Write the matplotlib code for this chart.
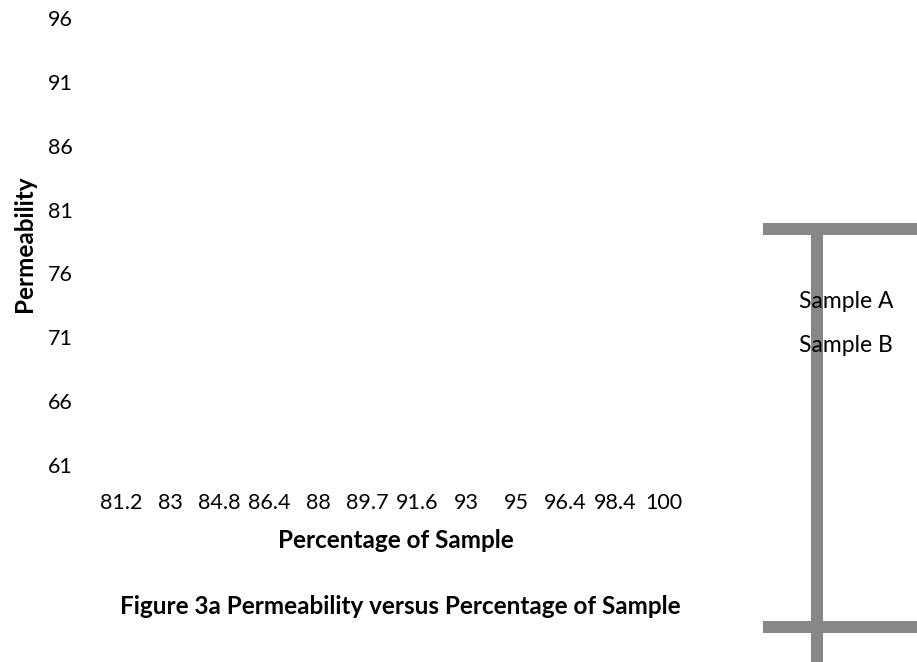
import matplotlib
matplotlib.use("Agg")
import matplotlib.pyplot as plt
from matplotlib.lines import Line2D

plt.rcParams['font.family'] = ['Lato', 'DejaVu Sans']

categories = ['81.2', '83', '84.8', '86.4', '88', '89.7', '91.6', '93', '95', '96.4', '98.4', '100']
y_ticks = [61, 66, 71, 76, 81, 86, 91, 96]
# the series carry no visible points in the original figure
sample_a = []
sample_b = []

W, H = 917, 662
fig = plt.figure(figsize=(W / 100, H / 100), dpi=100)
ax = fig.add_axes([96 / W, 1 - 465 / H, (689 - 96) / W, (465 - 18) / H])
ax.set_facecolor('none')

ax.plot(sample_a, sample_a, label='Sample A')
ax.plot(sample_b, sample_b, label='Sample B')

ax.set_xlim(-0.5, len(categories) - 0.5)
ax.set_ylim(y_ticks[0], y_ticks[-1])
ax.set_xticks(range(len(categories)), categories)
ax.set_yticks(y_ticks, [str(v) for v in y_ticks])
ax.tick_params(length=0, labelsize=15.5)
ax.tick_params(axis='y', pad=17)
ax.tick_params(axis='x', pad=20)
for s in ax.spines.values():
    s.set_visible(False)

fig.text(396 / W, 1 - 540 / H, 'Percentage of Sample', ha='center', va='center',
         fontsize=17.5, fontweight='bold')
fig.text(25 / W, 1 - 244 / H, 'Permeability', ha='center', va='center',
         rotation=90, fontsize=17.5, fontweight='bold')
fig.text(400 / W, 1 - 607 / H, 'Figure 3a Permeability versus Percentage of Sample',
         ha='center', va='center', fontsize=17.5, fontweight='bold')

# grey frame remnants at the right edge
gray = '#878787'
lw = 12 * 72 / 100
for seg in [((763, 917), (229, 229)), ((763, 917), (627, 627)), ((817, 817), (229, 662))]:
    xs = [x / W for x in seg[0]]
    ys = [1 - y / H for y in seg[1]]
    fig.add_artist(Line2D(xs, ys, color=gray, lw=lw, solid_capstyle='butt', zorder=1))

handles = [Line2D([], [], color='none'), Line2D([], [], color='none')]
fig.legend(handles, ['Sample A', 'Sample B'], loc='upper left',
           bbox_to_anchor=(788 / W, 1 - 280 / H), frameon=False, fontsize=16.5,
           handlelength=0, handletextpad=0, labelspacing=1.0, borderpad=0).set_zorder(5)

fig.savefig('out.png', dpi=100)
